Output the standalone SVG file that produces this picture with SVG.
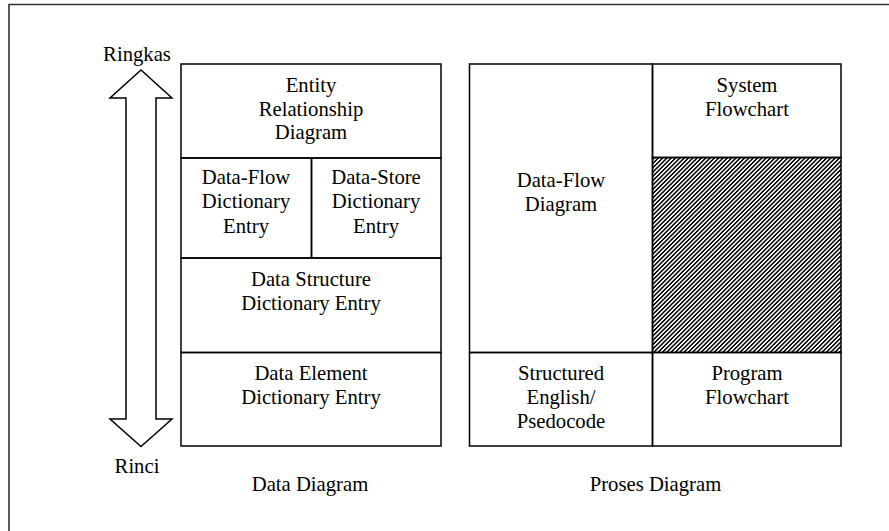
<svg xmlns="http://www.w3.org/2000/svg" width="889" height="531" viewBox="0 0 889 531">
<style>
.b{fill:none;stroke:#000;stroke-width:1.5}
.t{font-family:"Liberation Serif","Times New Roman",serif;font-size:20.7px;fill:#000;text-anchor:middle}
</style>
<defs>
<pattern id="hatch" patternUnits="userSpaceOnUse" width="3.05" height="10" patternTransform="rotate(45)">
<line x1="0.75" y1="0" x2="0.75" y2="10" stroke="#000" stroke-width="1.5"/>
</pattern>
</defs>
<rect width="889" height="531" fill="#fff"/>
<path d="M9,531 V4.5 H889" fill="none" stroke="#333" stroke-width="1.6"/>
<g id="axis">
<polygon class="b" points="141,70 172,98 156,98 156,419 172,419 141,446.5 110,419 126,419 126,98 110,98"/>
<text class="t" x="137" y="61">Ringkas</text>
<text class="t" x="137" y="473">Rinci</text>
</g>
<g id="data-diagram">
<g id="erd"><rect class="b" x="181" y="64" width="260" height="94"/>
<text class="t" x="311" y="92">Entity</text><text class="t" x="311" y="115.5">Relationship</text><text class="t" x="311" y="138.5">Diagram</text></g>
<g id="dfde"><rect class="b" x="181" y="158" width="130.5" height="100"/>
<text class="t" x="246" y="183.5">Data-Flow</text><text class="t" x="246" y="208">Dictionary</text><text class="t" x="246" y="232.5">Entry</text></g>
<g id="dsde"><rect class="b" x="311.5" y="158" width="129.5" height="100"/>
<text class="t" x="376" y="183.5">Data-Store</text><text class="t" x="376" y="208">Dictionary</text><text class="t" x="376" y="232.5">Entry</text></g>
<g id="dstr"><rect class="b" x="181" y="258" width="260" height="94.5"/>
<text class="t" x="311" y="286">Data Structure</text><text class="t" x="311" y="309.5">Dictionary Entry</text></g>
<g id="delem"><rect class="b" x="181" y="352.5" width="260" height="93.5"/>
<text class="t" x="311" y="380">Data Element</text><text class="t" x="311" y="403.5">Dictionary Entry</text></g>
<text class="t" x="310" y="491">Data Diagram</text>
</g>
<g id="proses-diagram">
<g id="dfd"><rect class="b" x="469.5" y="64" width="183" height="288.5"/>
<text class="t" x="561" y="187">Data-Flow</text><text class="t" x="561" y="210.5">Diagram</text></g>
<g id="sysflow"><rect class="b" x="652.5" y="64" width="188.5" height="93.5"/>
<text class="t" x="747" y="92">System</text><text class="t" x="747" y="116">Flowchart</text></g>
<g id="hatched"><rect x="652.5" y="157.5" width="188.5" height="195" fill="url(#hatch)" stroke="#000" stroke-width="1.5"/></g>
<g id="structeng"><rect class="b" x="469.5" y="352.5" width="183" height="93.5"/>
<text class="t" x="561" y="380">Structured</text><text class="t" x="561" y="404">English/</text><text class="t" x="561" y="428">Psedocode</text></g>
<g id="progflow"><rect class="b" x="652.5" y="352.5" width="188.5" height="93.5"/>
<text class="t" x="747" y="380">Program</text><text class="t" x="747" y="404">Flowchart</text></g>
<text class="t" x="655.5" y="491">Proses Diagram</text>
</g>
<g id="connectors"></g>
</svg>
